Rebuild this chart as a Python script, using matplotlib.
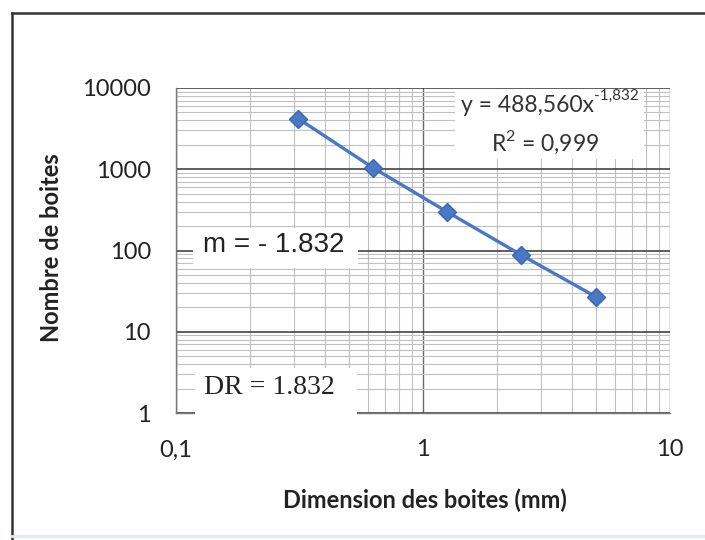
import numpy as np
import matplotlib.pyplot as plt
from matplotlib.patches import Rectangle
from matplotlib.lines import Line2D
from matplotlib.ticker import FixedLocator, LogLocator, NullFormatter

# box sizes (mm) and box counts
box_size = [0.3125, 0.625, 1.25, 2.5, 5.0]
box_count = [4200, 1050, 300, 88, 27]

x_ticks = [0.1, 1, 10]
x_labels = ["0,1", "1", "10"]
y_ticks = [1, 10, 100, 1000, 10000]
y_labels = ["1", "10", "100", "1000", "10000"]

eq_text = "y = 488,560x"
eq_exp = "-1,832"
r2_text = "R$^{\\mathregular{2}}$ = 0,999"
slope_text = "m = - 1.832"
dr_text = "DR = 1.832"

W, H = 705, 540
fig = plt.figure(figsize=(W / 100, H / 100), dpi=100)
fig.patch.set_facecolor("white")

# plot area in pixels: left 176, right 670, top 88, bottom 413
ax = fig.add_axes([176 / W, 1 - 413 / H, (670 - 176) / W, (413 - 88) / H])
ax.set_xscale("log")
ax.set_yscale("log")
ax.set_xlim(0.1, 10)
ax.set_ylim(1, 10000)

ax.xaxis.set_major_locator(FixedLocator(x_ticks))
ax.set_xticklabels(x_labels)
ax.yaxis.set_major_locator(FixedLocator(y_ticks))
ax.set_yticklabels(y_labels)
ax.xaxis.set_minor_locator(LogLocator(base=10, subs=np.arange(2, 10)))
ax.yaxis.set_minor_locator(LogLocator(base=10, subs=np.arange(2, 10)))
ax.xaxis.set_minor_formatter(NullFormatter())
ax.yaxis.set_minor_formatter(NullFormatter())

for lab in ax.get_xticklabels() + ax.get_yticklabels():
    lab.set_fontfamily("Lato")
    lab.set_fontsize(17)
    lab.set_color("#222222")
ax.tick_params(which="both", length=0)
ax.tick_params(axis="y", pad=18)
ax.tick_params(axis="x", pad=19)

ax.grid(which="minor", color="#c0c0c0", linewidth=0.8)
ax.grid(which="major", axis="y", color="#333333", linewidth=1.1)
ax.grid(which="major", axis="x", color="#6a6a6a", linewidth=1.0)
ax.set_axisbelow(True)
for s in ["top", "right"]:
    ax.spines[s].set_visible(False)
for s in ["left", "bottom"]:
    ax.spines[s].set_color("#777777")
    ax.spines[s].set_linewidth(1.0)

ax.plot(box_size, box_count, color="#4a78c4", linewidth=2.4,
        marker="D", markersize=9, markerfacecolor="#4a78c4",
        markeredgecolor="#3a66b0", zorder=5)

# white label boxes
ax.add_patch(Rectangle((1.35, 1320), 7.85 - 1.35, 9800 - 1320,
                       facecolor="white", edgecolor="none", zorder=3))
ax.add_patch(Rectangle((0.117, 61), 0.546 - 0.117, 189 - 61,
                       facecolor="white", edgecolor="none", zorder=3))
ax.add_patch(Rectangle((0.119, 0.92), 0.54 - 0.119, 3.58 - 0.92,
                       facecolor="white", edgecolor="none", zorder=3,
                       clip_on=False))

t_eq = ax.text(1.42, 6100, eq_text, fontfamily="Lato", fontsize=16.5,
               color="#333333", ha="left", va="center", zorder=4)
ax.annotate(eq_exp, xy=(1.0, 0.62), xycoords=t_eq, fontfamily="Lato",
            fontsize=11, color="#333333", ha="left", va="bottom", zorder=4)
ax.text(3.12, 2165, r2_text, fontfamily="Lato", fontsize=16.5, color="#333333",
        ha="center", va="center", zorder=4)
ax.text(0.248, 117, slope_text, fontfamily="Liberation Sans", fontsize=20,
        color="#222222", ha="center", va="center", zorder=4)
ax.text(0.238, 2.05, dr_text, fontfamily="Liberation Serif", fontsize=20,
        color="#222222", ha="center", va="center", zorder=4)

ax.set_xlabel("Dimension des boites (mm)", fontfamily="Lato", fontsize=17,
              fontweight="bold", color="#222222")
ax.set_ylabel("Nombre de boites", fontfamily="Lato", fontsize=17,
              fontweight="bold", color="#222222")
ax.xaxis.set_label_coords((425 - 176) / 494, (413 - 489) / 325)
ax.yaxis.set_label_coords((63 - 176) / 494, (413 - 248) / 325)

# chart frame
fig.add_artist(Line2D([12 / W, 12 / W], [0, 1 - 13 / H], color="#333333", linewidth=1.8))
fig.add_artist(Line2D([12 / W, 1], [1 - 13 / H, 1 - 13 / H], color="#333333", linewidth=1.8))
fig.add_artist(Line2D([12 / W, 1], [1 - 536 / H, 1 - 536 / H], color="#d8eef0", linewidth=2))

fig.savefig("out.png", dpi=100)
